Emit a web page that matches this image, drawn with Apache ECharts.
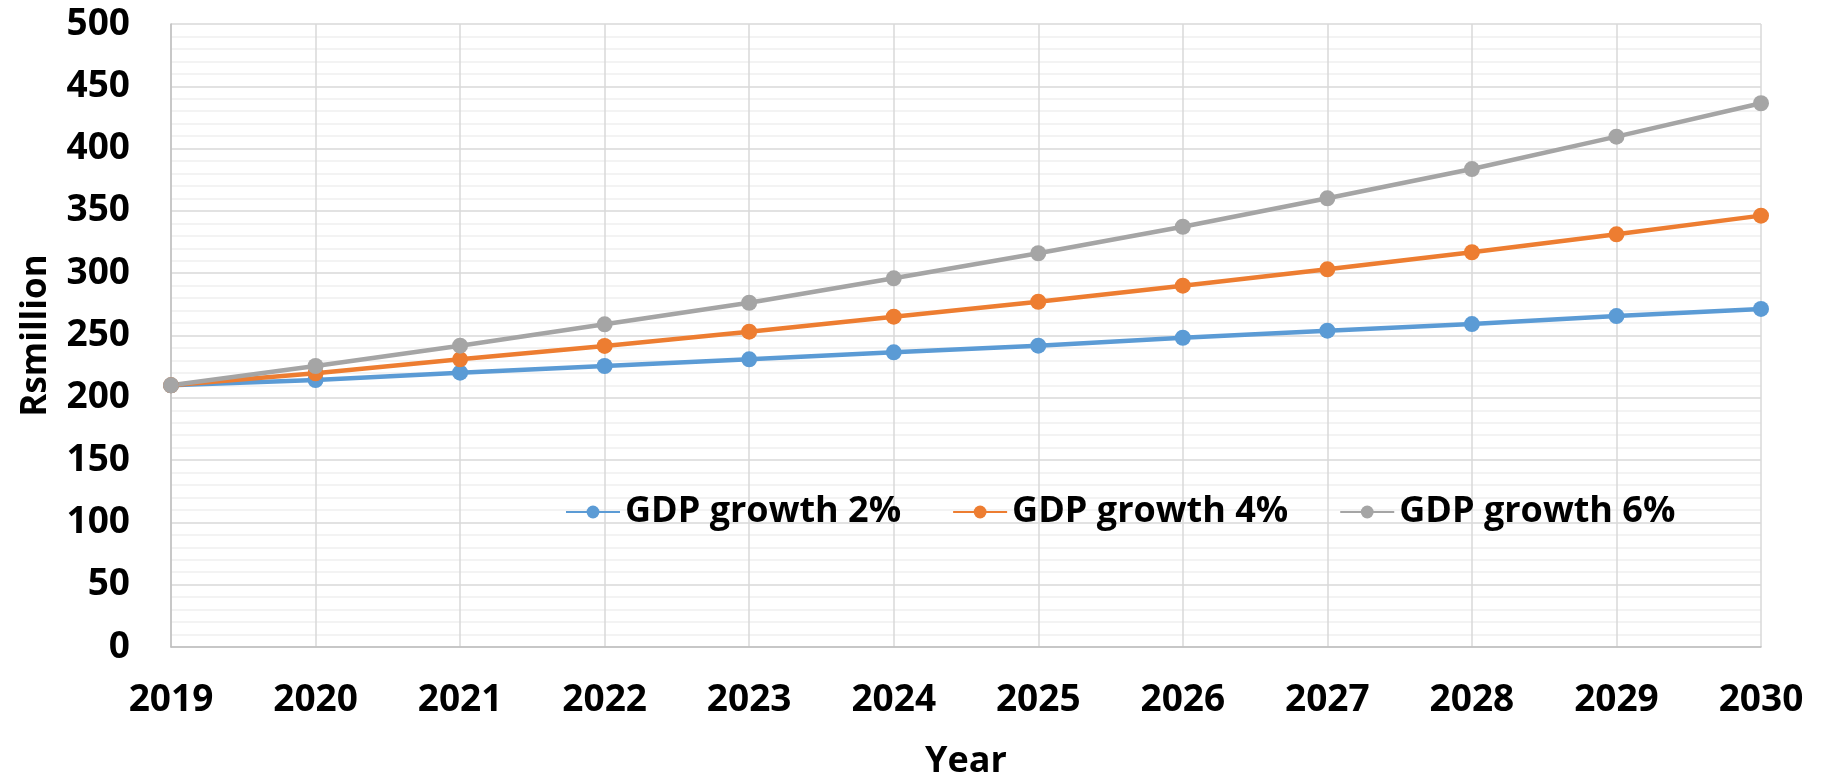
<!DOCTYPE html>
<html>
<head>
<meta charset="utf-8">
<script src="https://cdn.jsdelivr.net/npm/echarts@6/dist/echarts.min.js"></script>
<style>
  html, body { margin: 0; padding: 0; background: #ffffff; overflow: hidden; }
  #chart { width: 1823px; height: 777px; }
</style>
</head>
<body>
<div id="chart"></div>
<script>
const years = ['2019','2020','2021','2022','2023','2024','2025','2026','2027','2028','2029','2030'];
const growth2 = [210, 214.3, 220.2, 225.5, 230.9, 236.5, 241.8, 248.2, 253.9, 259.2, 265.6, 271.3];
const growth4 = [210, 219.7, 230.9, 241.6, 253.1, 265.1, 277.1, 290.0, 303.1, 316.8, 331.2, 346.2];
const growth6 = [210, 225.5, 241.8, 259.0, 276.3, 295.9, 316.0, 337.3, 360.1, 383.6, 409.6, 436.4];
const seriesNames = ['GDP growth 2%', 'GDP growth 4%', 'GDP growth 6%'];
const colors = ['#5B9BD5', '#ED7D31', '#A5A5A5'];

const font = 'Open Sans';
const chart = echarts.init(document.getElementById('chart'));

function mkSeries(name, data, color) {
  return {
    name: name,
    type: 'line',
    data: data,
    symbol: 'circle',
    symbolSize: 16,
    itemStyle: { color: color },
    lineStyle: { color: color, width: 4.5 },
    emphasis: { disabled: true },
    animation: false
  };
}

chart.setOption({
  backgroundColor: '#ffffff',
  animation: false,
  grid: { left: 171, right: 62, top: 24, bottom: 130, containLabel: false, outerBoundsMode: 'none' },
  legend: {
    left: 560,
    top: 489,
    itemWidth: 54,
    itemHeight: 16,
    itemGap: 51,
    data: seriesNames,
    textStyle: { fontFamily: font, fontWeight: 'bold', fontSize: 36, color: '#000' }
  },
  xAxis: {
    type: 'category',
    data: years,
    boundaryGap: false,
    name: 'Year',
    nameLocation: 'middle',
    nameGap: 97,
    nameTextStyle: { fontFamily: font, fontWeight: 'bold', fontSize: 36, color: '#000' },
    axisLine: { show: true, lineStyle: { color: '#bfbfbf', width: 1.5 } },
    axisTick: { show: false },
    axisLabel: { margin: 35, fontFamily: font, fontWeight: 'bold', fontSize: 37, color: '#000' },
    splitLine: { show: true, lineStyle: { color: '#d9d9d9', width: 1.5 } }
  },
  yAxis: {
    type: 'value',
    min: 0,
    max: 500,
    interval: 50,
    name: 'Rsmillion',
    nameLocation: 'middle',
    nameGap: 117,
    nameTextStyle: { fontFamily: font, fontWeight: 'bold', fontSize: 35, color: '#000' },
    axisLine: { show: true, lineStyle: { color: '#bfbfbf', width: 1.5 } },
    axisTick: { show: false },
    axisLabel: { margin: 41, fontFamily: font, fontWeight: 'bold', fontSize: 37, color: '#000' },
    splitLine: { show: true, lineStyle: { color: '#d9d9d9', width: 1.5 } },
    minorTick: { show: false, splitNumber: 5 },
    minorSplitLine: { show: true, lineStyle: { color: '#f0f0f0', width: 1.5 } }
  },
  series: [
    mkSeries(seriesNames[0], growth2, colors[0]),
    mkSeries(seriesNames[1], growth4, colors[1]),
    mkSeries(seriesNames[2], growth6, colors[2])
  ]
});
</script>
</body>
</html>
